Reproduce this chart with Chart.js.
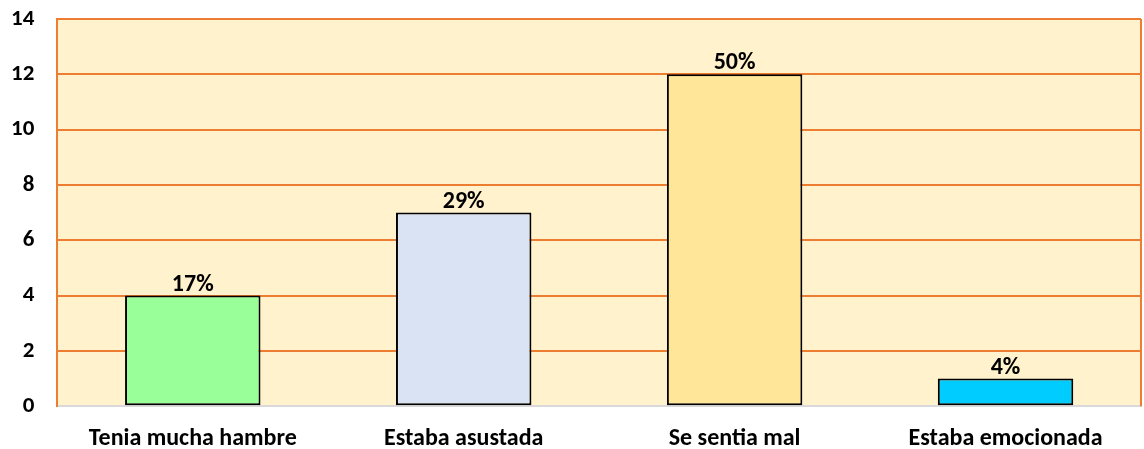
<!DOCTYPE html>
<html>
<head>
<meta charset="utf-8">
<title>Chart</title>
<script src="https://cdn.jsdelivr.net/npm/chart.js@4"></script>
<style>
    html, body { margin: 0; padding: 0; background: #fff; }
    .chart-box { width: 1144px; height: 449px; }
</style>
</head>
<body>
<div class="chart-box"><canvas id="reasons_chart"></canvas></div>
<script>
const categories = ["Tenia mucha hambre", "Estaba asustada", "Se sentia mal", "Estaba emocionada"];
const counts = [4, 7, 12, 1];
const percent_labels = ["17%", "29%", "50%", "4%"];
const bar_colors = ["#99FF99", "#DAE3F3", "#FFE699", "#00CCFF"];
const y_max = 14;
const y_step = 2;

Chart.defaults.font.family = "Carlito, Lato, sans-serif";
Chart.defaults.font.weight = "bold";
Chart.defaults.color = "#000";

// plot area fill + right border
const plotBackground = {
    id: "plotBackground",
    beforeDraw(chart) {
        const { ctx, chartArea: a } = chart;
        ctx.save();
        ctx.fillStyle = "#FFF2CC";
        ctx.fillRect(a.left, a.top, a.right - a.left, a.bottom - a.top);
        ctx.restore();
    },
    afterDraw(chart) {
        const { ctx, chartArea: a } = chart;
        ctx.save();
        ctx.strokeStyle = "#ED7D31";
        ctx.lineWidth = 2;
        ctx.beginPath();
        ctx.moveTo(a.right, a.top);
        ctx.lineTo(a.right, a.bottom);
        ctx.stroke();
        ctx.restore();
    },
};

// percentages on top of the bars
const percentLabels = {
    id: "percentLabels",
    afterDatasetsDraw(chart) {
        const { ctx } = chart;
        const meta = chart.getDatasetMeta(0);
        ctx.save();
        ctx.font = "bold 24px Carlito, Lato, sans-serif";
        ctx.fillStyle = "#000";
        ctx.textAlign = "center";
        ctx.textBaseline = "bottom";
        meta.data.forEach((bar, i) => {
            ctx.fillText(percent_labels[i], bar.x, bar.y + 1);
        });
        ctx.restore();
    },
};

document.addEventListener("DOMContentLoaded", () => {
    const ctx = document.querySelector("#reasons_chart");

    new Chart(ctx, {
        type: "bar",
        data: {
            labels: categories,
            datasets: [
                {
                    data: counts,
                    backgroundColor: bar_colors,
                    borderColor: "#000",
                    borderWidth: 2,
                    borderSkipped: false,
                    barPercentage: 0.5,
                    categoryPercentage: 1,
                },
            ],
        },
        options: {
            responsive: true,
            maintainAspectRatio: false,
            animation: false,
            layout: {
                padding: { top: 19, right: 3, bottom: -22, left: 9 },
            },
            scales: {
                x: {
                    grid: { display: false, drawTicks: false },
                    border: { display: true, color: "#D9D9D9", width: 2 },
                    ticks: {
                        font: { size: 24, weight: "bold" },
                        padding: 18,
                        maxRotation: 0,
                    },
                },
                y: {
                    min: 0,
                    max: y_max,
                    grid: {
                        color: "#ED7D31",
                        lineWidth: 2,
                        drawTicks: true,
                        tickLength: 21,
                        tickColor: "rgba(0,0,0,0)",
                    },
                    border: { display: true, color: "#ED7D31", width: 2 },
                    ticks: {
                        stepSize: y_step,
                        font: { size: 23, weight: "bold" },
                        padding: 2,
                    },
                },
            },
            plugins: {
                legend: { display: false },
                tooltip: { enabled: false },
            },
        },
        plugins: [plotBackground, percentLabels],
    });
});
</script>
</body>
</html>
